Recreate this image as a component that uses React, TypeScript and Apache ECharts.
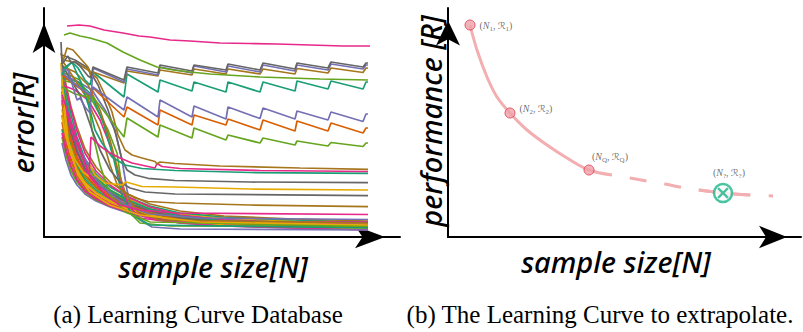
import React, { useEffect, useRef } from "react";
import * as echarts from "echarts";

// Dark2 palette
const TEAL = "#1b9e77";
const ORANGE = "#d95f02";
const PURPLE = "#7570b3";
const PINK = "#e7298a";
const GREEN = "#66a61e";
const YELLOW = "#e6ab02";
const BROWN = "#a6761d";
const GRAY = "#666666";

type Pt = [number, number];

// ---------- (a) learning curve database: [sample size, error] ----------
const TOP_PINK: Pt[] = [[23,211],[35,212],[46,211],[60,207],[79,204],[95,201],[106,200],[126,197],[146,196],[176,194],[205,193.5],[233,193],[266,192],[299,191],[326,191]];
const TOP_GREEN: Pt[] = [[20,202],[26,204],[36,201],[46,199],[63,194],[79,185],[96,177],[113,170],[129,167],[146,165],[166,163],[216,160],[276,158],[324,157]];

const SAW_GRAY: Pt[] = [[17,195],[18,173],[21,177],[24,181],[27,174],[31,175],[36,171],[44,161],[47,159],[49,170],[80,157],[83,170],[114,164],[116,172],[148,166],[150,172],[182,167],[184,173],[216,167],[219,174],[251,168],[253,174],[284,169],[287,175],[319,170],[322,174],[324,174]];
const SAW_PURPLE: Pt[] = [[18,167],[24,167],[29,150],[33,137],[36,139],[41,130],[46,124],[49,169],[80,155],[83,168],[114,162],[116,170],[148,164],[150,171],[182,165],[184,171],[216,165],[219,172],[251,166],[253,172],[284,167],[287,173],[319,168],[322,172],[324,172]];
const SAW_BROWN: Pt[] = [[17,184],[19,176],[23,189],[29,187],[36,179],[44,170],[47,160],[49,165],[80,154],[83,166],[114,161],[116,167],[148,162],[150,168],[182,163],[184,168],[216,163],[219,168],[251,163],[253,168.5],[284,164],[287,169],[319,164.5],[322,169],[324,169]];
const SAW_TEAL: Pt[] = [[18,162],[22,169],[28,175],[34,169],[41,157],[46,152],[49,165],[80,140],[83,163],[114,145],[116,157],[148,146],[150,155],[182,145],[184,155],[216,145],[219,155],[251,146],[253,156],[284,148],[287,156],[319,148],[322,155],[324,155]];
const SAW_PURPLE_LOW: Pt[] = [[18,165],[26,157],[36,149],[46,142],[49,150],[80,127],[83,140],[114,120],[116,137],[148,120],[150,131],[182,118],[184,130],[216,118.5],[219,129],[251,118],[253,126],[284,117],[287,125],[319,115.5],[322,123],[324,123]];
const SAW_ORANGE: Pt[] = [[18,162],[31,152],[44,143],[47,140],[49,149],[80,120],[83,130],[114,112],[116,127],[148,112],[150,122],[182,112],[184,118],[216,107],[219,117],[251,106],[253,116],[284,106],[287,114],[319,104],[322,109],[324,109]];
const SAW_GREEN: Pt[] = [[18,150],[31,143],[44,140],[47,136],[49,140],[80,100],[83,119],[114,100],[116,112],[148,99],[150,109],[182,97],[184,102],[216,94],[219,99],[251,92],[253,96],[284,91],[287,94.5],[319,90.5],[322,94],[324,94]];

const FLAT_BROWN: Pt[] = [[18,177],[31,175],[44,167],[53,159],[61,142],[68,125],[74,102],[81,87],[88,82],[98,79],[111,75.5],[113,73],[116,75],[131,73.5],[176,71],[256,69],[324,67.7]];
const FLAT_PINK: Pt[] = [[18,142],[28,112],[38,82],[45,62],[47,100],[56,91],[66,84],[76,79],[88,74],[111,69],[113,73.5],[118,70.5],[136,68.5],[216,66.5],[324,65.5]];
const FLAT_TEAL: Pt[] = [[18,167],[28,175],[38,152],[46,127],[51,107],[58,94],[68,80],[81,72],[98,68.5],[131,66.5],[206,64.5],[324,63.7]];
const FLAT_GRAY: Pt[] = [[18,182],[31,177],[44,169],[54,152],[64,127],[72,102],[78,77],[83,67],[91,62],[104,58.7],[131,56.5],[206,55],[324,54.3]];
const FLAT_YELLOW: Pt[] = [[18,157],[21,127],[24,97],[31,77],[39,65],[44,61],[46,72],[51,62],[61,54],[78,52],[82,55],[98,50.5],[131,50],[206,48],[324,47]];
const FLAT_GRAY_LOW: Pt[] = [[18,172],[36,142],[48,107],[56,87],[66,67],[76,55],[86,49],[101,45],[131,43],[324,41.3]];
const FLAT_BROWN_LOW: Pt[] = [[18,177],[41,142],[56,107],[66,72],[74,50],[81,44],[91,39],[104,35.5],[131,34],[206,32],[324,30.3]];
const FLAT_PINK_LOW: Pt[] = [[18,137],[31,97],[46,62],[61,42],[76,32],[96,27],[131,24],[324,22.5]];
const FLAT_PURPLE: Pt[] = [[18,142],[36,87],[56,52],[81,32],[106,23],[156,19],[324,17.5]];
const FLAT_YELLOW_LOW: Pt[] = [[17,174],[19,137],[22,107],[26,87],[34,62],[46,45],[66,32],[96,22],[156,15],[324,12]];

const LATE_PURPLE: Pt[] = [[18,162],[31,157],[48,147],[61,127],[71,107],[78,77],[83,47],[88,27],[96,17],[108,10],[136,8],[324,7]];
const LATE_GREEN: Pt[] = [[18,157],[36,152],[48,137],[64,107],[73,84],[78,50],[86,24],[96,14],[126,11],[324,10.5]];
const LATE_PINK: Pt[] = [[18,152],[31,147],[44,137],[56,117],[68,87],[76,57],[84,32],[96,19],[126,15],[324,15]];
const LATE_TEAL: Pt[] = [[18,159],[34,155],[48,142],[60,112],[70,77],[78,42],[88,22],[106,12],[324,9]];
const LATE_BROWN: Pt[] = [[18,171],[31,165],[44,152],[56,127],[66,97],[74,67],[82,42],[94,25],[116,17],[324,14]];
const LATE_GREEN_B: Pt[] = [[18,165],[36,157],[44,140],[48,107],[56,72],[66,42],[81,25],[106,15],[324,11]];

// dense bundle of fast-converging curves, sampled at shared sample sizes
const BUNDLE_X = [18, 22, 27, 33, 41, 52, 66, 84, 106, 136, 180, 250, 324];
const B01 = [94, 77, 62, 52, 43, 36, 30, 24, 19, 14, 11, 9, 8];
const B02 = [100, 82, 66, 55, 45, 37, 31, 25, 20, 15, 12, 10, 9];
const B03 = [108, 88, 71, 58, 47, 39, 32, 26, 20, 15, 12, 10, 9];
const B04 = [115, 93, 75, 61, 49, 40, 33, 26, 21, 16, 13, 11, 10];
const B05 = [122, 98, 79, 64, 51, 42, 34, 27, 21, 16, 13, 11, 10];
const B06 = [128, 104, 83, 67, 54, 44, 35, 28, 22, 17, 14, 12, 11];
const B07 = [134, 109, 87, 70, 56, 45, 36, 29, 23, 17, 14, 12, 11];
const B08 = [140, 114, 91, 73, 58, 47, 38, 30, 24, 18, 14, 12, 11];
const B09 = [146, 119, 95, 76, 60, 49, 39, 31, 25, 19, 15, 13, 12];
const B10 = [152, 124, 99, 80, 63, 51, 41, 32, 26, 20, 16, 13, 12];
const B11 = [158, 130, 104, 84, 66, 53, 43, 34, 27, 21, 17, 14, 13];
const B12 = [163, 136, 109, 88, 69, 56, 45, 36, 28, 22, 18, 15, 14];
const B13 = [168, 141, 115, 93, 73, 59, 47, 38, 30, 23, 19, 16, 14];
const B14 = [172, 147, 122, 100, 78, 63, 50, 40, 31, 24, 20, 17, 15];
const B15 = [174, 152, 130, 110, 88, 70, 55, 43, 33, 26, 21, 18, 16];
const B16 = [170, 150, 128, 106, 84, 66, 52, 40, 30, 22, 17, 14, 12];
const B17 = [150, 130, 110, 92, 72, 58, 46, 36, 28, 20, 15, 12, 10];
const B18 = [136, 116, 96, 78, 62, 50, 40, 31, 24, 18, 14, 11, 9];
const B19 = [120, 100, 82, 67, 54, 44, 36, 28, 22, 16, 12, 10, 8];
const B20 = [104, 86, 70, 57, 46, 38, 31, 25, 19, 14, 11, 9, 7];
const B21 = [160, 138, 114, 94, 75, 60, 47, 37, 28, 21, 16, 13, 11];
const B22 = [145, 125, 104, 86, 68, 55, 44, 34, 26, 19, 15, 12, 10];

// ---------- (b) curve to extrapolate: [sample size, performance] ----------
const FIT_N = [22, 29, 39, 49, 62, 79, 99, 119, 141, 164, 182, 199, 217, 232, 251, 275, 302, 325];
const FIT_R = [212, 187, 160, 140, 124, 107, 92, 79, 67, 62, 59, 56, 53, 50, 47, 44, 42, 41];
const OBS_N = [22, 62, 141];
const OBS_R = [212, 124, 67];
const OBS_SUB = ["1", "2", "Q"];
const TARGET_N = 275;
const TARGET_R = 44;
const LAST_OBSERVED_N = 164;

const HAND_FONT = "Noto Sans";

const bundleColors = [PURPLE, GREEN, TEAL, ORANGE, PINK, YELLOW, BROWN, TEAL, GREEN, ORANGE, PINK, PURPLE, YELLOW, TEAL, BROWN, PINK, GREEN, ORANGE, YELLOW, PINK, TEAL, GRAY];
const bundle = [B01, B02, B03, B04, B05, B06, B07, B08, B09, B10, B11, B12, B13, B14, B15, B16, B17, B18, B19, B20, B21, B22];

const curveLayers: [Pt[], string][] = [
  [LATE_PURPLE, PURPLE], [LATE_GREEN, GREEN], [LATE_PINK, PINK], [LATE_TEAL, TEAL], [LATE_BROWN, BROWN], [LATE_GREEN_B, GREEN],
  [FLAT_YELLOW_LOW, YELLOW], [FLAT_PURPLE, PURPLE], [FLAT_PINK_LOW, PINK], [FLAT_BROWN_LOW, BROWN], [FLAT_GRAY_LOW, GRAY],
  [FLAT_YELLOW, YELLOW], [FLAT_GRAY, GRAY], [FLAT_TEAL, TEAL], [FLAT_PINK, PINK], [FLAT_BROWN, BROWN],
  [SAW_GREEN, GREEN], [SAW_ORANGE, ORANGE], [SAW_PURPLE_LOW, PURPLE], [SAW_TEAL, TEAL], [SAW_BROWN, BROWN],
  [SAW_PURPLE, PURPLE], [SAW_GRAY, GRAY], [TOP_GREEN, GREEN], [TOP_PINK, PINK],
];

const CURVE_COLOR = "#f3aeb1";

function subLabel(sub: string) {
  return `{p|(}{n|N}{s|${sub}}{p|, }{r|ℛ}{s|${sub}}{p|)}`;
}

const LABEL_INK = "#4a4a4a";
const labelRich = {
  p: { fontFamily: "Liberation Serif", fontSize: 10, color: LABEL_INK, lineHeight: 14, verticalAlign: "middle" },
  n: { fontFamily: "Liberation Serif", fontStyle: "italic", fontSize: 10, color: LABEL_INK, lineHeight: 14, verticalAlign: "middle" },
  r: { fontFamily: "DejaVu Sans", fontSize: 9.5, color: LABEL_INK, lineHeight: 14, verticalAlign: "middle" },
  s: { fontFamily: "Liberation Serif", fontSize: 7, color: LABEL_INK, lineHeight: 14, verticalAlign: "bottom" },
};

function buildOption(): echarts.EChartsOption {
  const lineBase = (data: Pt[], color: string) => ({
    type: "line" as const,
    xAxisIndex: 0,
    yAxisIndex: 0,
    data,
    showSymbol: false,
    symbol: "none",
    silent: true,
    lineStyle: { color, width: 1.7 },
  });

  const series: any[] = [];
  bundle.forEach((ys, i) => {
    series.push(lineBase(BUNDLE_X.map((x, j) => [x, ys[j]] as Pt), bundleColors[i]));
  });
  curveLayers.forEach(([d, c]) => series.push(lineBase(d, c)));

  const fit: Pt[] = FIT_N.map((n, i) => [n, FIT_R[i]]);
  const solidPart = fit.filter((p) => p[0] <= LAST_OBSERVED_N);
  const dashedPart = fit.filter((p) => p[0] >= LAST_OBSERVED_N);
  const aroundTarget = fit.filter((p) => p[0] >= 251 && p[0] <= 302);
  const fitLine = (data: Pt[], extra: any = {}) => ({
    type: "line",
    xAxisIndex: 1,
    yAxisIndex: 1,
    data,
    smooth: 0.35,
    showSymbol: false,
    symbol: "none",
    silent: true,
    lineStyle: { color: CURVE_COLOR, width: 3, cap: "butt", ...extra },
  });
  series.push(fitLine(solidPart));
  series.push(fitLine(dashedPart, { type: [17, 18], dashOffset: 17 }));
  series.push(fitLine(aroundTarget));

  series.push({
    type: "scatter",
    xAxisIndex: 1,
    yAxisIndex: 1,
    silent: true,
    symbol: "circle",
    symbolSize: 10,
    itemStyle: { color: "#efa1a9", borderColor: "#df3447", borderWidth: 1 },
    z: 5,
    data: OBS_N.map((n, i) => ({
      value: [n, OBS_R[i]],
      label: {
        show: true,
        formatter: subLabel(OBS_SUB[i]),
        rich: labelRich,
        position: i === 2 ? "top" : "right",
        distance: i === 2 ? 1 : 4,
        offset: i === 0 ? [0, 0] : i === 1 ? [0, -5] : [21, 0],
      },
    })),
  });

  series.push({
    type: "scatter",
    xAxisIndex: 1,
    yAxisIndex: 1,
    silent: true,
    symbol: "path://M0,-10A10,10 0 1,1 0,10A10,10 0 1,1 0,-10ZM-5.5,-5.5L5.5,5.5M5.5,-5.5L-5.5,5.5",
    symbolSize: 18,
    itemStyle: { color: "#ffffff", borderColor: "#1db489", borderWidth: 2.5 },
    z: 6,
    data: [
      {
        value: [TARGET_N, TARGET_R],
        label: {
          show: true,
          formatter: subLabel("?"),
          rich: labelRich,
          position: "top",
          distance: 3,
          offset: [6, 0],
        },
      },
    ],
  });

  const arrowAxis = (size: number[]) => ({
    show: true,
    onZero: false,
    symbol: ["none", "arrow"],
    symbolSize: size,
    symbolOffset: [0, -size[1] / 2],
    lineStyle: { color: "#000", width: 2 },
  });
  const hiddenBits = {
    axisTick: { show: false },
    axisLabel: { show: false },
    splitLine: { show: false },
  };

  const handText = (text: string, x: number, y: number, rot = 0, size = 29) => ({
    type: "text",
    x,
    y,
    rotation: rot,
    silent: true,
    style: {
      text,
      fontFamily: HAND_FONT,
      fontStyle: "italic",
      fontWeight: 500,
      fontSize: size,
      fill: "#000",
      textAlign: "center",
      textVerticalAlign: "middle",
    },
  });
  const captionText = (text: string, x: number, y: number) => ({
    type: "text",
    x,
    y,
    silent: true,
    style: {
      text,
      fontFamily: "Liberation Serif",
      fontSize: 25,
      fill: "#000",
      textAlign: "center",
      textVerticalAlign: "middle",
    },
  });

  return {
    animation: false,
    backgroundColor: "#ffffff",
    grid: [
      { left: 44, top: 8, width: 356, height: 229 },
      { left: 448, top: 8, width: 353, height: 229 },
    ],
    xAxis: [
      { type: "value", gridIndex: 0, min: 0, max: 356, axisLine: arrowAxis([17, 30]), ...hiddenBits },
      { type: "value", gridIndex: 1, min: 0, max: 353, axisLine: arrowAxis([17, 28]), ...hiddenBits },
    ],
    yAxis: [
      { type: "value", gridIndex: 0, min: 0, max: 229, axisLine: arrowAxis([17, 30]), ...hiddenBits },
      { type: "value", gridIndex: 1, min: 0, max: 229, axisLine: arrowAxis([18, 25]), ...hiddenBits },
    ],
    series,
    graphic: [
      handText("error[R]", 22, 123, Math.PI / 2),
      handText("performance [R]", 430, 121, Math.PI / 2),
      handText("sample size[N]", 213, 266),
      handText("sample size[N]", 616, 261),
      captionText("(a) Learning Curve Database", 198, 314),
      captionText("(b) The Learning Curve to extrapolate.", 600, 314),
    ],
  } as any;
}

export default function App() {
  const ref = useRef<HTMLDivElement>(null);
  useEffect(() => {
    if (!ref.current) return;
    const chart = echarts.init(ref.current, null, { renderer: "svg" });
    chart.setOption(buildOption());
    return () => chart.dispose();
  }, []);
  return (
    <div
      ref={ref}
      style={{ position: "fixed", left: 0, top: 0, width: 803, height: 332, background: "#fff" }}
    />
  );
}
